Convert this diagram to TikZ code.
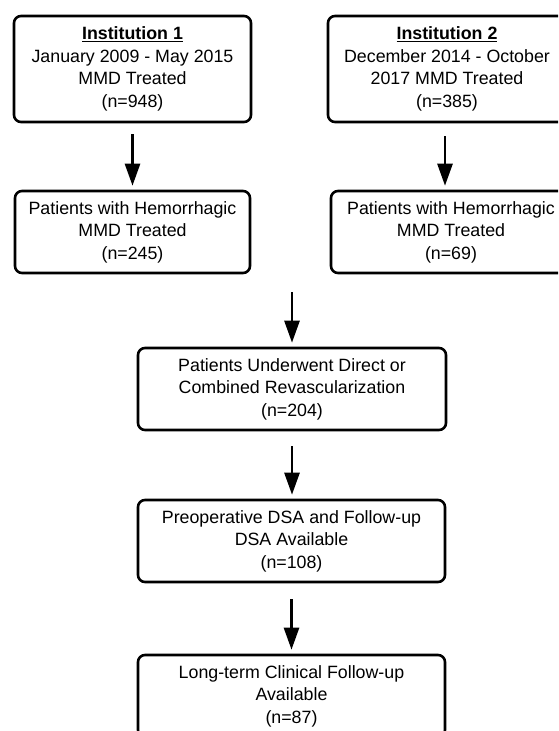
\documentclass[tikz,border=0pt]{standalone}
\usepackage{fontspec}
\setmainfont{Liberation Sans}
\usetikzlibrary{positioning,arrows.meta}

\begin{document}
\begin{tikzpicture}[x=1pt,y=-1pt,
    box/.style={draw, line width=2.6pt, rounded corners=7pt, align=center,
        inner sep=0pt, minimum height=82pt, font=\fontsize{17.8}{22.5}\selectfont},
    flow/.style={line width=2.6pt, -{Triangle[width=15pt,length=22pt]}, shorten >=4pt}]
    \useasboundingbox (0,0) rectangle (558,731);
    \clip (0,0) rectangle (558,731);

    % Institution 1
    \node[box, minimum width=237pt, minimum height=106pt] (inst1) at (132.5,69)
        {\underline{\textbf{Institution 1}}\\January 2009 - May 2015\\MMD Treated\\(n=948)};
    \node[box, minimum width=235pt] (hem1) at (132.5,232)
        {Patients with Hemorrhagic\\MMD Treated\\(n=245)};

    % Institution 2
    \node[box, minimum width=238pt, minimum height=106pt] (inst2) at (447,69)
        {\underline{\textbf{Institution 2}}\\December 2014 - October\\2017 MMD Treated\\(n=385)};
    \node[box, minimum width=240pt] (hem2) at (451,232)
        {Patients with Hemorrhagic\\MMD Treated\\(n=69)};

    % Combined cohort
    \coordinate (merge) at (292,292);
    \node[box, minimum width=308pt] (revasc) at (292,389)
        {Patients Underwent Direct or\\Combined Revascularization\\(n=204)};
    \node[box, minimum width=307pt] (dsa) at (291.5,541)
        {Preoperative DSA and Follow-up\\DSA Available\\(n=108)};
    \node[box, minimum width=307pt] (clin) at (291.5,696)
        {Long-term Clinical Follow-up\\Available\\(n=87)};

    % Arrows
    \draw[flow, shorten <=11pt] (inst1.south) -- (hem1.north);
    \draw[flow, shorten <=13pt] ([xshift=-2pt]inst2.south) -- ([xshift=-2pt]inst2.south |- hem2.north);
    \draw[flow] (merge) -- (merge |- revasc.north);
    \draw[flow, shorten <=15pt] (revasc.south) -- (revasc.south |- dsa.north);
    \draw[flow, shorten <=16pt] (dsa.south) -- (dsa.south |- clin.north);
\end{tikzpicture}
\end{document}
